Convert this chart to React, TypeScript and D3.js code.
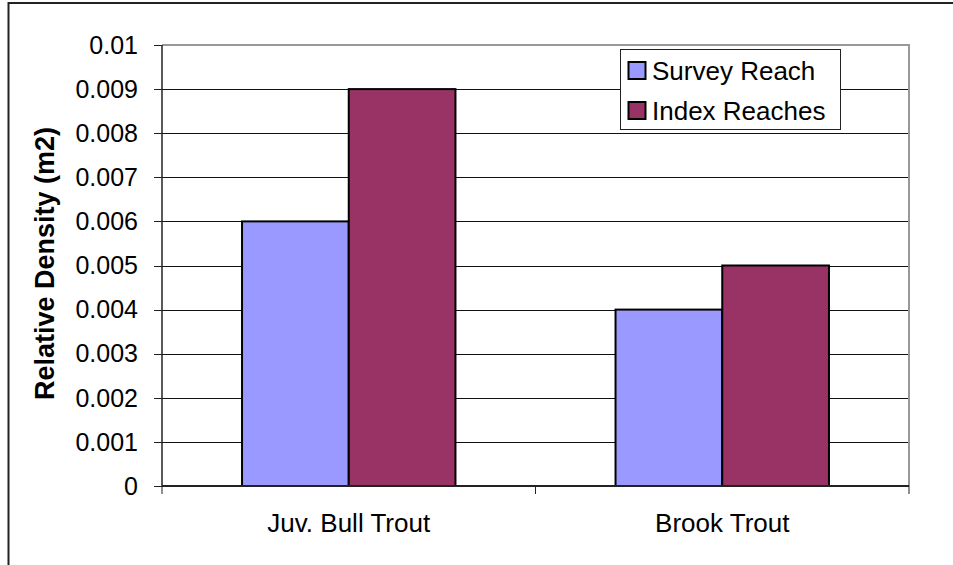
import React from "react";
import * as d3 from "d3";

const categories = ["Juv. Bull Trout", "Brook Trout"];
const seriesNames = ["Survey Reach", "Index Reaches"];
const surveyReach = [0.006, 0.004];
const indexReaches = [0.009, 0.005];
const yTicks = [0, 0.001, 0.002, 0.003, 0.004, 0.005, 0.006, 0.007, 0.008, 0.009, 0.01];
const yTickLabels = ["0", "0.001", "0.002", "0.003", "0.004", "0.005", "0.006", "0.007", "0.008", "0.009", "0.01"];
const seriesColors = ["#9999FF", "#993366"];

const W = 953;
const H = 565;
const plot = { left: 162, right: 909, top: 45, bottom: 486 };
const FONT = "'Liberation Sans', Arial, sans-serif";

export default function App() {
  const series = [surveyReach, indexReaches];

  const x0 = d3
    .scaleBand<string>()
    .domain(categories)
    .range([plot.left, plot.right])
    .paddingInner(0)
    .paddingOuter(0);
  // two bars per category with a 150% gap between groups
  const groupW = x0.bandwidth();
  const barW = groupW / 3.5;
  const gapW = (groupW - barW * 2) / 2;

  const y = d3.scaleLinear().domain([0, 0.01]).range([plot.bottom, plot.top]);

  const catEdges = [plot.left, ...categories.map((c) => (x0(c) as number) + groupW)];

  return (
    <svg
      width={W}
      height={H}
      viewBox={`0 0 ${W} ${H}`}
      style={{ position: "absolute", left: 0, top: 0, background: "#fff" }}
      fontFamily={FONT}
    >
      <rect x={0} y={0} width={W} height={H} fill="#fff" />
      {/* chart frame */}
      <rect x={8.5} y={3} width={W + 10} height={H + 10} fill="none" stroke="#222" strokeWidth={2} />

      {/* gridlines */}
      {yTicks.slice(1, -1).map((t) => (
        <line key={t} x1={plot.left} x2={plot.right} y1={Math.round(y(t)) + 0.5} y2={Math.round(y(t)) + 0.5} stroke="#111" strokeWidth={1} />
      ))}
      {/* plot area border top and right */}
      <line x1={plot.left} x2={plot.right + 1} y1={plot.top} y2={plot.top} stroke="#999" strokeWidth={2} />
      <line x1={plot.right} x2={plot.right} y1={plot.top} y2={plot.bottom} stroke="#999" strokeWidth={2} />

      {/* bars */}
      {categories.map((c, i) => {
        const gx = x0(c) as number;
        return series.map((s, j) => {
          const bx = gx + gapW + j * barW;
          return (
            <rect
              key={`${c}-${j}`}
              x={bx}
              y={y(s[i])}
              width={barW}
              height={y(0) - y(s[i])}
              fill={seriesColors[j]}
              stroke="#000"
              strokeWidth={2}
            />
          );
        });
      })}

      {/* y axis */}
      <line x1={plot.left} x2={plot.left} y1={plot.top} y2={plot.bottom} stroke="#222" strokeWidth={1.5} />
      {yTicks.map((t, i) => (
        <g key={t}>
          <line x1={plot.left - 8} x2={plot.left} y1={Math.round(y(t)) + 0.5} y2={Math.round(y(t)) + 0.5} stroke="#222" strokeWidth={1} />
          <text x={138} y={y(t)} dy="0.35em" textAnchor="end" fontSize={25} fill="#000">
            {yTickLabels[i]}
          </text>
        </g>
      ))}

      {/* x axis */}
      <line x1={plot.left} x2={plot.right} y1={plot.bottom} y2={plot.bottom} stroke="#222" strokeWidth={2} />
      {catEdges.map((ex) => (
        <line key={ex} x1={ex} x2={ex} y1={plot.bottom} y2={plot.bottom + 8} stroke="#222" strokeWidth={1} />
      ))}
      {categories.map((c) => (
        <text key={c} x={(x0(c) as number) + groupW / 2} y={532} textAnchor="middle" fontSize={26} fill="#000">
          {c}
        </text>
      ))}

      {/* y axis title */}
      <text
        transform={`translate(54, ${(plot.top + plot.bottom) / 2 - 2}) rotate(-90)`}
        textAnchor="middle"
        fontSize={27}
        fontWeight="bold"
        fill="#000"
      >
        Relative Density (m2)
      </text>

      {/* legend */}
      <rect x={620.5} y={49.5} width={220} height={80} fill="#fff" stroke="#222" strokeWidth={1} />
      {seriesNames.map((n, i) => (
        <g key={n}>
          <rect x={628.5} y={62 + i * 40} width={17} height={17} fill={seriesColors[i]} stroke="#000" strokeWidth={2} />
          <text x={652} y={80 + i * 40} fontSize={26} fill="#000">
            {n}
          </text>
        </g>
      ))}
    </svg>
  );
}
